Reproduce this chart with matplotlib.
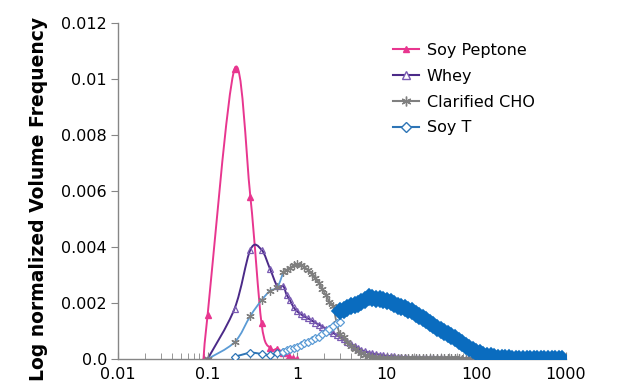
import numpy as np
import matplotlib
matplotlib.use("Agg")
import matplotlib.pyplot as plt
from matplotlib.path import Path
from matplotlib.patches import PathPatch
from matplotlib.lines import Line2D

# ---------------- data ----------------
peptone_x = [0.09, 0.1, 0.2, 0.3, 0.4, 0.5, 0.6, 0.7, 0.8, 0.9, 1.0]
peptone_y = [0.0, 0.00157, 0.01036, 0.0058, 0.00127, 0.00038, 0.00036, 0.00022, 0.0001, 0.00003, 0.0]

whey_x = [0.1, 0.2, 0.3, 0.4, 0.5, 0.6, 0.7, 0.76, 0.83, 0.91, 1.0, 1.1, 1.2, 1.32, 1.45,
          1.58, 1.74, 1.91, 2.09, 2.29, 2.51, 2.75, 3.0, 3.3, 3.6, 4.0, 4.4, 4.8, 5.2, 5.7,
          6.3, 6.9, 7.6, 8.3, 9.1, 10, 11, 12, 13.2, 14.5, 15.9, 17.4, 19.1, 21, 23, 25.2,
          27.6, 30.3, 33.2, 36.4, 40, 43.8, 48, 52.6, 57.7, 63.2, 69.3, 76, 83.3, 91.3, 100]
whey_y = [0.0, 0.0018, 0.0039, 0.0039, 0.0032, 0.0026, 0.0026, 0.0023, 0.0021, 0.00185,
          0.0017, 0.0016, 0.00152, 0.00145, 0.00138, 0.0013, 0.00123, 0.00116, 0.00108,
          0.001, 0.00093, 0.00086, 0.0008, 0.0007, 0.0006, 0.00052, 0.00045, 0.00038,
          0.00032, 0.00027, 0.00023, 0.0002, 0.00017, 0.00015, 0.00013, 0.00011, 0.0001,
          0.00009, 0.00008, 0.00007, 0.00006, 0.00005, 0.00005, 0.00004, 0.00004, 0.00003,
          0.00003, 0.00003, 0.00002, 0.00002, 0.00002, 0.00001, 0.00001, 0.00001, 0.00001,
          0.00001, 0.00001, 0.00001, 0.00001, 0.00001, 0.00001]

cho_x = [0.1, 0.2, 0.3, 0.4, 0.5, 0.6, 0.7, 0.76, 0.83, 0.91, 1.0, 1.1, 1.2, 1.32, 1.45,
         1.58, 1.74, 1.91, 2.09, 2.29, 2.51, 2.75, 3.0, 3.3, 3.6, 4.0, 4.4, 4.8, 5.2, 5.7,
         6.3, 6.9, 7.6, 8.3, 9.1, 10, 11, 12, 13.2, 14.5, 15.9, 17.4, 19.1, 21, 23, 25.2,
         27.6, 30.3, 33.2, 36.4, 40, 43.8, 48, 52.6, 57.7, 63.2, 69.3, 76, 83.3, 91.3, 100,
         110, 120, 132, 145]
cho_y = [0.0, 0.0006, 0.00154, 0.0021, 0.00244, 0.00256, 0.0031, 0.00318, 0.00325, 0.00335,
         0.0034, 0.00336, 0.00328, 0.00318, 0.00305, 0.0029, 0.00272, 0.0025, 0.00228,
         0.00205, 0.0019, 0.0013, 0.00088, 0.0008, 0.0006, 0.00045, 0.00035, 0.00028,
         0.0002, 0.00015, 0.0001, 0.00008, 0.00006, 0.00005, 0.00004, 0.00003, 0.00003,
         0.00002, 0.00002, 0.00002, 0.00002, 0.00002, 0.00002, 0.00002, 0.00002, 0.00002,
         0.00002, 0.00002, 0.00002, 0.00002, 0.00002, 0.00002, 0.00002, 0.00002, 0.00002,
         0.00002, 0.00001, 0.00001, 0.00001, 0.00001, 0.00001, 0.00001, 0.00001, 0.00001,
         0.00001]

soyt_low_x = [0.2, 0.3, 0.4, 0.5, 0.6, 0.7, 0.76, 0.83, 0.91, 1.0, 1.1, 1.2, 1.32, 1.45,
              1.58, 1.74, 1.91, 2.09, 2.29, 2.51, 2.75, 3.0]
soyt_low_y = [0.00008, 0.00022, 0.00018, 0.00014, 0.00022, 0.00026, 0.00031, 0.00036,
              0.0004, 0.00044, 0.0005, 0.00056, 0.00062, 0.00068, 0.00074, 0.0008, 0.00088,
              0.00098, 0.00108, 0.00118, 0.00128, 0.00133]

soyt_x = [3.0, 3.3, 3.6, 4.0, 4.4, 4.8, 5.2, 5.7, 6.3, 6.9, 7.6, 8.3, 9.1, 10, 11, 12, 13.2,
          14.5, 15.9, 17.4, 19.1, 21, 23, 25.2, 27.6, 30.3, 33.2, 36.4, 40, 43.8, 48, 52.6,
          57.7, 63.2, 69.3, 76, 83.3, 91.3, 100, 110, 120, 132, 145, 158, 174, 191, 209, 229,
          251, 275, 302, 331, 363, 398, 437, 479, 525, 575, 631, 692, 759, 832, 912]
soyt_y = [0.0017, 0.00175, 0.00182, 0.00188, 0.00193, 0.00198, 0.00204, 0.00212, 0.0022,
          0.00218, 0.00215, 0.00213, 0.0021, 0.00208, 0.00205, 0.00198, 0.0019, 0.00186,
          0.00181, 0.00176, 0.0017, 0.00162, 0.00154, 0.00146, 0.00138, 0.00129, 0.0012,
          0.00111, 0.00102, 0.00095, 0.00089, 0.00082, 0.00074, 0.00065, 0.00056, 0.00048,
          0.00039, 0.00031, 0.00025, 0.0002, 0.00015, 0.00012, 0.00009, 0.00007, 0.00005,
          0.00004, 0.00003, 0.00002, 0.00001, 0.00001, 0.00001, 0.00001, 0.00001, 0.00001,
          0.00001, 0.00001, 0.00001, 0.00001, 0.00001, 0.00001, 0.00001, 0.00001, 0.00001]

series_names = ["Soy Peptone", "Whey", "Clarified CHO", "Soy T"]
ytick_vals = [0.0, 0.002, 0.004, 0.006, 0.008, 0.01, 0.012]
ytick_labels = ["0.0", "0.002", "0.004", "0.006", "0.008", "0.01", "0.012"]
xtick_vals = [0.01, 0.1, 1, 10, 100, 1000]
xtick_labels = ["0.01", "0.1", "1", "10", "100", "1000"]

# ---------------- style ----------------
PINK = "#E8368F"
PURPLE = "#4B2A88"
PURPLE_M = "#7A5BB3"
GRAY = "#7F7F7F"
LBLUE = "#5B9BD5"
MBLUE = "#2E75B6"
BLUE = "#0A6CBF"

plt.rcParams["font.family"] = ["DejaVu Sans"]

fig = plt.figure(figsize=(6.2, 3.9), dpi=100)
ax = fig.add_axes([118 / 620, 1 - 359 / 390, (566 - 118) / 620, (359 - 23) / 390])
ax.set_xscale("log")


def smooth(xs, ys, color, lw=1.3, z=2):
    """Excel-style smoothed line drawn as Bezier path in (log x, y) space."""
    u = np.log10(np.asarray(xs, float))
    v = np.asarray(ys, float)
    n = len(u)
    verts = [(xs[0], ys[0])]
    codes = [Path.MOVETO]
    for i in range(n - 1):
        p0 = i - 1 if i > 0 else i
        p3 = i + 2 if i + 2 < n else i + 1
        c1u = u[i] + (u[i + 1] - u[p0]) / 6
        c1v = v[i] + (v[i + 1] - v[p0]) / 6
        c2u = u[i + 1] - (u[p3] - u[i]) / 6
        c2v = v[i + 1] - (v[p3] - v[i]) / 6
        verts += [(10 ** c1u, c1v), (10 ** c2u, c2v), (xs[i + 1], ys[i + 1])]
        codes += [Path.CURVE4] * 3
    ax.add_patch(PathPatch(Path(verts, codes), fill=False, edgecolor=color, lw=lw, zorder=z))


# Soy Peptone
smooth(peptone_x, peptone_y, PINK, lw=1.4, z=2)
ax.plot(peptone_x, peptone_y, ls="none", marker="^", ms=4, color=PINK, zorder=2.1)

# Whey
smooth(whey_x, whey_y, PURPLE, lw=1.4, z=3)
ax.plot(whey_x, whey_y, ls="none", marker="^", ms=5, mfc="none", mec=PURPLE_M, mew=0.9, zorder=3.1)

# Clarified CHO
smooth(cho_x[:7], cho_y[:7], LBLUE, lw=1.3, z=4)
smooth(cho_x[6:], cho_y[6:], GRAY, lw=1.3, z=4)
ax.plot(cho_x, cho_y, ls="none", marker=(6, 2, 0), ms=6, color=GRAY, mew=0.9, zorder=4.1)

# Soy T
smooth(soyt_low_x[:6], soyt_low_y[:6], MBLUE, lw=1.4, z=5)
smooth(soyt_low_x[5:], soyt_low_y[5:], LBLUE, lw=1.3, z=5)
ax.plot(soyt_low_x[:6], soyt_low_y[:6], ls="none", marker="D", ms=4, mfc="white", mec=MBLUE, mew=0.9, zorder=5.1)
ax.plot(soyt_low_x[5:], soyt_low_y[5:], ls="none", marker="D", ms=4, mfc="white", mec=LBLUE, mew=0.9, zorder=5.1)
smooth(soyt_x, soyt_y, BLUE, lw=1.5, z=5)
ax.plot(soyt_x, soyt_y, ls="none", marker="D", ms=8, mfc=BLUE, mec=BLUE, mew=1.2, zorder=5.2)

ax.set_xlim(0.01, 1000)
ax.set_ylim(0, 0.012)

ax.set_yticks(ytick_vals)
ax.set_yticklabels(ytick_labels)
ax.set_xticks(xtick_vals)
ax.set_xticklabels(xtick_labels)
ax.xaxis.set_minor_locator(matplotlib.ticker.LogLocator(base=10, subs=np.arange(2, 10)))
ax.xaxis.set_minor_formatter(matplotlib.ticker.NullFormatter())

for s in ["top", "right"]:
    ax.spines[s].set_visible(False)
for s in ["left", "bottom"]:
    ax.spines[s].set_color("#868686")
    ax.spines[s].set_linewidth(1.0)

ax.tick_params(axis="y", which="major", direction="out", length=5, color="#868686",
               labelsize=11.5, pad=3, labelcolor="black")
ax.tick_params(axis="x", which="major", direction="in", length=5, color="#868686",
               labelsize=11.5, pad=6, labelcolor="black")
ax.tick_params(axis="x", which="minor", direction="in", length=4, color="#868686")

ax.set_ylabel("Log normalized Volume Frequency", fontsize=13.5, fontweight="bold")
ax.yaxis.set_label_coords(-0.156, 0.476)

handles = [
    Line2D([], [], color=PINK, marker="^", ms=5, lw=1.5),
    Line2D([], [], color=PURPLE, marker="^", ms=6, mfc="white", mec=PURPLE_M, lw=1.5),
    Line2D([], [], color=GRAY, marker=(6, 2, 0), ms=7, lw=1.5),
    Line2D([], [], color=MBLUE, marker="D", ms=5, mfc="white", lw=1.5),
]
leg = ax.legend(handles, series_names, loc="upper left", bbox_to_anchor=(0.6, 0.96),
                frameon=False, fontsize=11.5, handlelength=1.6, handletextpad=0.5,
                labelspacing=0.68, borderaxespad=0)

fig.savefig("out.png", dpi=100)
